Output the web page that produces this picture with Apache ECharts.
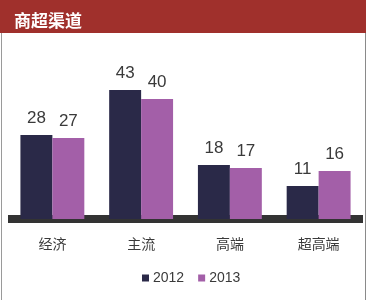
<!DOCTYPE html>
<html>
<head>
<meta charset="utf-8">
<script src="https://cdn.jsdelivr.net/npm/echarts@6/dist/echarts.min.js"></script>
<style>
	html, body { margin: 0; padding: 0; background: #fff; }
	#chart { width: 368px; height: 300px; }
</style>
</head>
<body>
<div id="chart"></div>
<script>
const categories = [ "经济", "主流", "高端", "超高端" ];
const seriesNames = [ "2012", "2013" ];
const values2012 = [ 28, 43, 18, 11 ];
const values2013 = [ 27, 40, 17, 16 ];
const colors = [ "#2a2948", "#a35fa8" ];

const chart = echarts.init( document.getElementById( "chart" ) );

/* 柱子样式 */
function makeSeries( name, data, color ) {
	return {
		name,
		type: "bar",
		data,
		barGap: "0%",
		barCategoryGap: "28%",
		itemStyle: { color },
		label: {
			show: true,
			position: "top",
			distance: 8,
			color: "#3a3a3a",
			fontSize: 17,
			fontFamily: "Liberation Sans, Arial, sans-serif"
		}
	};
}

chart.setOption( {
	animation: false,
	graphic: [
		{ type: "rect", left: 0, top: 0, shape: { width: 366, height: 33 }, style: { fill: "#a0302c" } },
		{ type: "rect", left: 1, top: 33, shape: { width: 1, height: 267 }, style: { fill: "#9a9a9a" } },
		{ type: "rect", left: 365, top: 33, shape: { width: 1, height: 267 }, style: { fill: "#8a8a8a" } }
	],
	title: {
		text: "商超渠道",
		left: 9,
		top: 7,
		textStyle: {
			color: "#fff",
			fontSize: 17,
			fontWeight: "bold",
			fontFamily: "Noto Sans CJK SC"
		}
	},
	legend: {
		data: seriesNames,
		left: 137,
		top: 266,
		itemWidth: 7,
		itemHeight: 7,
		itemGap: 14,
		icon: "rect",
		textStyle: {
			color: "#3a3a3a",
			fontSize: 14,
			padding: [ 0, 0, 0, -1 ],
			fontFamily: "Liberation Sans, Arial, sans-serif"
		}
	},
	grid: {
		left: 8,
		right: 5,
		top: 69,
		height: 150,
		containLabel: false
	},
	xAxis: {
		type: "category",
		data: categories,
		offset: 4,
		axisLine: {
			show: true,
			lineStyle: { color: "#333", width: 8, cap: "butt" }
		},
		axisTick: { show: false },
		axisLabel: {
			margin: 14,
			color: "#3a3a3a",
			fontSize: 14,
			fontFamily: "Noto Sans CJK SC"
		}
	},
	yAxis: {
		type: "value",
		min: 0,
		max: 50,
		show: false,
		splitLine: { show: false }
	},
	series: [
		makeSeries( seriesNames[0], values2012, colors[0] ),
		makeSeries( seriesNames[1], values2013, colors[1] )
	]
} );
</script>
</body>
</html>
